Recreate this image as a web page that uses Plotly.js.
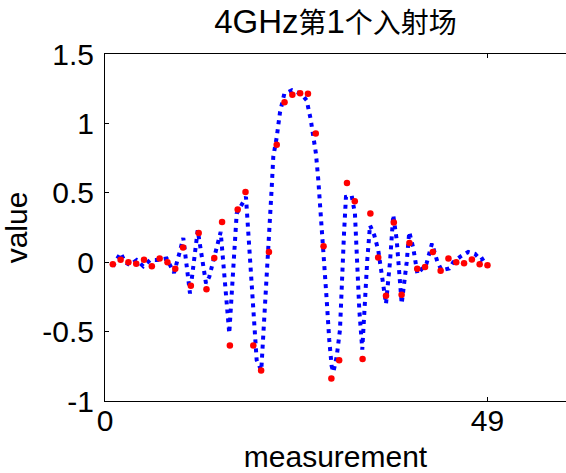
<!DOCTYPE html>
<html>
<head>
<meta charset="utf-8">
<script src="https://cdn.plot.ly/plotly-3.0.1.min.js"></script>
<style>
  html, body { margin: 0; padding: 0; background: #fff; overflow: hidden; }
  #chart { width: 566px; height: 473px; }
</style>
</head>
<body>
<div id="chart"></div>
<script>
// Sampled field values at each measurement index
const measureX = [1,2,3,4,5,6,7,8,9,10,11,12,13,14,15,16,17,18,19,20,21,22,23,24,25,
                  26,27,28,29,30,31,32,33,34,35,36,37,38,39,40,41,42,43,44,45,46,47,48,49];
const measureY = [-0.015,0.017,0.0,-0.012,0.017,-0.03,0.027,0.0,-0.048,0.106,
                  -0.17,0.21,-0.195,0.03,0.29,-0.6,0.38,0.506,-0.6,-0.78,
                  0.074,0.847,1.153,1.206,1.218,1.214,0.928,0.115,-0.837,-0.707,
                  0.571,0.439,-0.698,0.35,0.034,-0.242,0.286,-0.235,0.139,-0.048,
                  -0.034,0.074,-0.062,0.027,0.0,-0.007,0.019,-0.015,-0.022];

// Reconstructed incident field (finer sampling)
const fieldX = [0.99,2.01,2.56,3.2,4.06,4.91,5.76,6.62,7.9,8.84,9.52,10.03,10.89,11.88,
                12.94,13.36,14.82,15.92,16.87,17.64,18.06,19.43,20.02,21.36,21.56,22.0,
                22.42,22.97,23.96,25.2,25.84,26.35,26.68,27.03,27.33,27.54,27.84,27.96,
                28.4,28.73,29.04,29.27,29.68,30.1,30.32,30.62,30.87,31.6,32.02,32.32,
                32.58,32.96,33.31,33.6,33.95,34.5,35.01,35.45,36.0,36.51,36.93,37.37,
                37.7,38.01,38.65,38.98,39.5,40.03,41.19,41.89,42.6,43.13,44.1,44.62,
                45.52,46.54,47.4,48.13,48.97];
const fieldY = [-0.03,0.067,0.0,-0.02,0.015,-0.03,0.015,0.015,0.027,-0.077,0.063,0.175,
                -0.225,0.23,-0.153,-0.105,0.218,-0.513,0.35,0.42,0.47,-0.705,-0.78,0.54,
                0.76,0.9,1.08,1.213,1.24,1.21,1.165,1.03,0.9,0.78,0.59,0.4,0.18,0.11,
                -0.27,-0.56,-0.75,-0.79,-0.68,-0.49,-0.15,0.206,0.47,0.48,0.35,-0.03,
                -0.345,-0.63,-0.25,0.015,0.266,0.194,0.086,-0.08,-0.3,0.0,0.34,0.16,
                -0.13,-0.3,0.0,0.218,0.1,-0.085,-0.01,0.135,0.0,-0.058,-0.045,0.0,
                0.04,0.074,0.06,0.015,0.045];

const xTicks = [0, 49];
const yTicks = [-1, -0.5, 0, 0.5, 1, 1.5];
const yTickText = ['-1', '-0.5', '0', '0.5', '1', '1.5'];

const font = 'Liberation Sans, Arial, Noto Sans CJK SC, sans-serif';

const traces = [
  {
    x: fieldX, y: fieldY, type: 'scatter', mode: 'lines',
    line: { color: '#0000ff', width: 4, dash: '4px,5px' },
    hoverinfo: 'skip'
  },
  {
    x: measureX, y: measureY, type: 'scatter', mode: 'markers',
    marker: { color: '#ff0000', size: 6.5, line: { width: 0 } }
  }
];

const layout = {
  width: 566, height: 473,
  margin: { l: 105, r: 0, t: 54, b: 72 },
  paper_bgcolor: '#ffffff', plot_bgcolor: '#ffffff',
  showlegend: false,
  font: { family: font, size: 30, color: '#000' },
  title: {
    text: '4GHz<span style="font-size:28px">第</span>1<span style="font-size:28px">个入射场</span>',
    x: 0.5, xref: 'paper', xanchor: 'center',
    y: 0.955, yref: 'container', yanchor: 'middle',
    font: { family: font, size: 33, color: '#000' }
  },
  xaxis: {
    range: [0, 59.06], autorange: false,
    tickmode: 'array', tickvals: xTicks, ticktext: xTicks.map(String),
    ticks: 'inside', ticklen: 4, tickcolor: '#000', tickwidth: 1,
    showline: true, linecolor: '#000', linewidth: 1, mirror: 'ticks',
    showgrid: false, zeroline: false,
    tickfont: { family: font, size: 30, color: '#000' },
    ticklabelstandoff: -7,
    title: { text: 'measurement', standoff: 12, font: { family: font, size: 30, color: '#000' } }
  },
  yaxis: {
    range: [-1, 1.5], autorange: false,
    tickmode: 'array', tickvals: yTicks, ticktext: yTickText,
    ticks: 'inside', ticklen: 4, tickcolor: '#000', tickwidth: 1,
    showline: true, linecolor: '#000', linewidth: 1, mirror: false,
    showgrid: false, zeroline: false,
    tickfont: { family: font, size: 30, color: '#000' },
    ticklabelstandoff: 4,
    title: { text: 'value', standoff: 6, font: { family: font, size: 30, color: '#000' } }
  }
};

Plotly.newPlot('chart', traces, layout, { displayModeBar: false, staticPlot: true });
</script>
</body>
</html>
